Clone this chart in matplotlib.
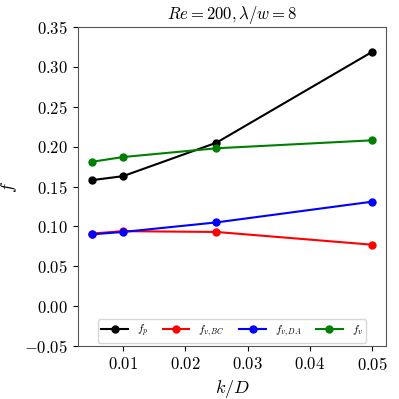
import matplotlib
matplotlib.use('Agg')
import matplotlib.pyplot as plt

plt.rcParams.update({
    'font.family': 'serif',
    'font.serif': ['cmr10'],
    'mathtext.fontset': 'cm',
    'axes.formatter.use_mathtext': True,
    'font.size': 12,
})

kD = [0.005, 0.01, 0.025, 0.05]
f_p = [0.158, 0.163, 0.205, 0.319]
f_vBC = [0.091, 0.094, 0.093, 0.077]
f_vDA = [0.090, 0.093, 0.105, 0.131]
f_v = [0.181, 0.187, 0.198, 0.208]

fig, ax = plt.subplots(figsize=(3.99, 3.99), dpi=100)
fig.subplots_adjust(left=0.195, right=0.968, top=0.932, bottom=0.133)

ax.plot(kD, f_p, 'o-', color='black', ms=5, lw=1.5, label=r'$f_p$')
ax.plot(kD, f_vBC, 'o-', color='red', ms=5, lw=1.5, label=r'$f_{v,BC}$')
ax.plot(kD, f_vDA, 'o-', color='blue', ms=5, lw=1.5, label=r'$f_{v,DA}$')
ax.plot(kD, f_v, 'o-', color='green', ms=5, lw=1.5, label=r'$f_v$')

ax.set_ylim(-0.05, 0.35)
ax.set_xticks([0.01, 0.02, 0.03, 0.04, 0.05])
ax.set_xlabel(r'$k/D$', fontsize=13)
ax.set_ylabel(r'$f$', fontsize=13)
ax.set_title(r'$Re=200, \lambda/w=8$', fontsize=12)
ax.legend(loc='lower center', ncol=4, fontsize=8, handlelength=2.4,
          columnspacing=1.3, borderpad=0.3, borderaxespad=0.3)
for s in ax.spines.values():
    s.set_color('#555555')

fig.savefig('out.png', dpi=100)
